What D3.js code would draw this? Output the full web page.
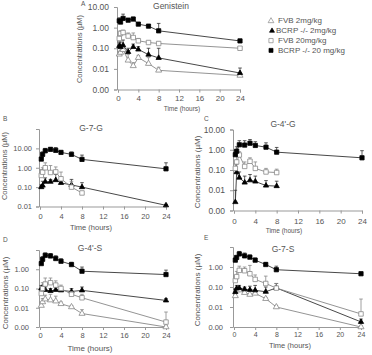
<!DOCTYPE html>
<html><head><meta charset="utf-8">
<script src="https://cdn.jsdelivr.net/npm/d3@7"></script>
<style>body{margin:0;background:#fff}svg{display:block}text{font-family:"Liberation Sans",Arial,sans-serif;fill:#555}</style>
</head><body><svg id="c" width="372" height="355"></svg>
<script>
// ---- data ----
const times = [0.25, 0.5, 1, 2, 3, 4, 6, 8, 24];
const times8 = [0.25, 0.5, 1, 2, 3, 4, 6, 8];
const xTicks = [0, 4, 8, 12, 16, 20, 24];
const seriesNames = ["FVB 2mg/kg", "BCRP -/- 2mg/kg", "FVB 20mg/kg", "BCRP -/- 20 mg/kg"];

// Genistein
const genFvb2 = [0.051, 0.062, 0.085, 0.026, 0.014, 0.035, 0.018, 0.0085, 0.0048];
const genFvb2Err = [0.07, 0.08, 0.12, 0.05, 0.02, 0.045, 0.035, 0.012, 0.006];
const genBcrp2 = [0.13, 0.115, 0.14, 0.066, 0.115, 0.087, 0.049, 0.034, 0.0063];
const genBcrp2Err = [0.2, 0.2, 0.25, 0.1, 0.16, 0.12, 0.1, 0.1, 0.011];
const genFvb20 = [0.3, 0.52, 0.58, 0.39, 0.33, 0.23, 0.19, 0.17, 0.1];
const genFvb20Err = [0.4, 0.7, 0.75, 0.55, 0.55, 0.3, 0.23, 0.2, 0.11];
const genBcrp20 = [2.15, 1.86, 2.8, 2.3, 2.6, 1.48, 1.18, 0.7, 0.227];
const genBcrp20Err = [3.0, 2.5, 4.5, 2.8, 3.2, 1.7, 1.4, 1.6, 0.27];

// G-7-G
const g7gBcrp2 = [0.1, 0.12, 0.19, 0.19, 0.23, 0.165, 0.13, 0.1, 0.0115];
const g7gBcrp2Err = [0.13, 0.2, 0.3, 0.25, 0.45, 0.2, 0.25, 0.17, 0.013];
const g7gFvb20 = [0.4, 0.59, 1.0, 0.57, 0.61, 0.27, 0.1, 0.05];
const g7gFvb20Err = [0.8, 1.0, 1.8, 1.3, 1.1, 0.6, 0.2, 0.06];
const g7gBcrp20 = [2.8, 4.9, 7.5, 8.9, 7.9, 6.2, 4.9, 2.7, 0.88];
const g7gBcrp20Err = [3.5, 6.5, 10, 11, 11, 7.5, 6.5, 4.5, 1.8];

// G-4'-G
const g4gBcrp2 = [0.0026, 0.078, 0.042, 0.024, 0.031, 0.027, 0.017, 0.016];
const g4gBcrp2Err = [0.01, 0.2, 0.08, 0.05, 0.06, 0.05, 0.03, 0.028];
const g4gFvb20 = [0.12, 0.25, 0.55, 0.15, 0.27, 0.12, 0.08, 0.075];
const g4gFvb20Err = [0.2, 0.5, 0.8, 0.25, 0.4, 0.25, 0.12, 0.11];
const g4gBcrp20 = [0.57, 0.85, 1.76, 1.7, 2.1, 1.63, 1.34, 0.76, 0.4];
const g4gBcrp20Err = [0.9, 1.4, 2.8, 2.8, 3.2, 2.5, 2.2, 1.3, 0.9];

// G-4'-S
const g4sFvb2 = [0.013, 0.02, 0.028, 0.025, 0.022, 0.016, 0.011, 0.005, 0.001];
const g4sFvb2Err = [0.02, 0.03, 0.045, 0.05, 0.04, 0.02, 0.013, 0.008, 0.0012];
const g4sBcrp2 = [0.1, 0.11, 0.085, 0.075, 0.085, 0.08, 0.07, 0.08, 0.024];
const g4sBcrp2Err = [0.14, 0.15, 0.12, 0.1, 0.12, 0.1, 0.1, 0.12, 0.03];
const g4sFvb20 = [0.055, 0.1, 0.17, 0.2, 0.15, 0.1, 0.05, 0.033, 0.0018];
const g4sFvb20Err = [0.12, 0.2, 0.35, 0.35, 0.25, 0.15, 0.07, 0.05, 0.006];
const g4sBcrp20 = [1.97, 3.3, 5.3, 4.9, 3.6, 2.6, 1.75, 0.79, 0.53];
const g4sBcrp20Err = [2.5, 4.5, 7, 6.5, 5, 3.5, 2.3, 1.3, 0.9];

// G-7-S
const g7sFvb2 = [0.036, 0.07, 0.07, 0.052, 0.042, 0.048, 0.026, 0.01, 0.001];
const g7sFvb2Err = [0.05, 0.09, 0.09, 0.07, 0.06, 0.06, 0.03, 0.012, 0.0012];
const g7sBcrp2 = [0.056, 0.085, 0.088, 0.077, 0.072, 0.068, 0.058, 0.09, 0.0018];
const g7sBcrp2Err = [0.08, 0.12, 0.12, 0.1, 0.11, 0.12, 0.1, 0.15, 0.0025];
const g7sFvb20 = [0.21, 0.33, 0.68, 0.65, 0.46, 0.24, 0.15, 0.088, 0.0045];
const g7sFvb20Err = [0.35, 0.6, 1.1, 1.0, 1.2, 0.4, 0.35, 0.15, 0.025];
const g7sBcrp20 = [2.2, 3.0, 4.5, 3.6, 3.1, 2.2, 1.33, 0.73, 0.46];
const g7sBcrp20Err = [2.8, 3.5, 6, 5, 4, 2.8, 1.7, 1.1, 0.55];

// ---- drawing ----
const svg = d3.select("#c");
const styles = {
  fvb2:   {sym: d3.symbolTriangle, fill: "#fff", stroke: "#888", line: "#888", size: 16},
  bcrp2:  {sym: d3.symbolTriangle, fill: "#000", stroke: "#000", line: "#333", size: 12},
  fvb20:  {sym: d3.symbolSquare,   fill: "#fff", stroke: "#888", line: "#888", size: 20},
  bcrp20: {sym: d3.symbolSquare,   fill: "#000", stroke: "#000", line: "#333", size: 18}
};

function panel(cfg) {
  const g = svg.append("g");
  const x = d3.scaleLinear().domain([0, 24]).range([cfg.x0, cfg.x1]);
  const y = d3.scaleLog().domain(cfg.domain).range([cfg.yBot, cfg.yTop]);
  const ya = g.append("g").attr("transform", `translate(${cfg.x0 - 1},0)`)
    .call(d3.axisLeft(y).tickValues(cfg.yTicks).tickFormat(d3.format(".2f")).tickSize(3).tickPadding(cfg.yPad));
  const xa = g.append("g").attr("transform", `translate(0,${cfg.yBot})`)
    .call(d3.axisBottom(x).tickValues(xTicks).tickSize(3).tickPadding(cfg.xPad));
  [ya, xa].forEach(a => {
    a.select(".domain").attr("stroke", "#999");
    a.selectAll(".tick line").attr("stroke", "#999");
    a.selectAll("text").style("fill", "#555").attr("font-family", "Liberation Sans, Arial, sans-serif");
  });
  ya.selectAll("text").attr("font-size", cfg.tickFont);
  xa.selectAll("text").attr("font-size", cfg.xTickFont);
  cfg.series.forEach(s => {
    const st = styles[s.key];
    const pts = s.t.map((t, i) => ({t, v: s.v[i], e: s.e[i]}));
    g.append("path").datum(pts).attr("fill", "none").attr("stroke", st.line).attr("stroke-width", 0.9)
      .attr("d", d3.line().x(d => x(d.t)).y(d => y(d.v)));
    const eb = g.append("g").attr("stroke", st.line).attr("stroke-width", 0.8);
    pts.forEach(d => {
      eb.append("line").attr("x1", x(d.t)).attr("x2", x(d.t)).attr("y1", y(d.v)).attr("y2", y(d.e));
      eb.append("line").attr("x1", x(d.t) - 1.8).attr("x2", x(d.t) + 1.8).attr("y1", y(d.e)).attr("y2", y(d.e));
    });
    g.append("g").selectAll("path").data(pts).join("path")
      .attr("transform", d => `translate(${x(d.t)},${y(d.v)})`)
      .attr("d", d3.symbol().type(st.sym).size(st.size))
      .attr("fill", st.fill).attr("stroke", st.stroke).attr("stroke-width", 0.8);
  });
  g.append("text").attr("x", cfg.titleX).attr("y", cfg.titleY).attr("text-anchor", "middle")
    .attr("dominant-baseline", "middle").attr("font-size", 8.5).text(cfg.title);
  g.append("text").attr("x", cfg.letterX).attr("y", cfg.letterY).attr("dominant-baseline", "middle")
    .attr("font-size", 6.5).text(cfg.letter);
  g.append("text").attr("transform", `translate(${cfg.yTitleX},${cfg.yTitleY}) rotate(-90)`)
    .attr("text-anchor", "middle").attr("dominant-baseline", "middle").attr("font-size", cfg.yTitleFont)
    .text("Concentrations (\u00b5M)");
  g.append("text").attr("x", cfg.xTitleX).attr("y", cfg.xTitleY).attr("text-anchor", "middle")
    .attr("dominant-baseline", "middle").attr("font-size", cfg.xTitleFont).text("Time (hours)");
}

const ticks4 = [10, 1, 0.1, 0.01, 0.001];

panel({x0: 118, x1: 240, yTop: 7, yBot: 89.5, domain: [0.001, 10], yTicks: ticks4, yPad: 5, xPad: 3, tickFont: 8.5, xTickFont: 8,
  title: "Genistein", titleX: 171, titleY: 7, letter: "A", letterX: 81, letterY: 4,
  yTitleX: 80, yTitleY: 49, yTitleFont: 7.5, xTitleX: 182, xTitleY: 109, xTitleFont: 6.5,
  series: [
    {key: "fvb2", t: times, v: genFvb2, e: genFvb2Err},
    {key: "bcrp2", t: times, v: genBcrp2, e: genBcrp2Err},
    {key: "fvb20", t: times, v: genFvb20, e: genFvb20Err},
    {key: "bcrp20", t: times, v: genBcrp20, e: genBcrp20Err}]});

panel({x0: 40, x1: 166, yTop: 129, yBot: 206.5, domain: [0.01, 100], yTicks: [10, 1, 0.1, 0.01], yPad: 4, xPad: 4, tickFont: 7.5, xTickFont: 7.5,
  title: "G-7-G", titleX: 91, titleY: 129, letter: "B", letterX: 3, letterY: 119,
  yTitleX: 5, yTitleY: 166, yTitleFont: 7.5, xTitleX: 91, xTitleY: 228, xTitleFont: 7.5,
  series: [
    {key: "bcrp2", t: times, v: g7gBcrp2, e: g7gBcrp2Err},
    {key: "fvb20", t: times8, v: g7gFvb20, e: g7gFvb20Err},
    {key: "bcrp20", t: times, v: g7gBcrp20, e: g7gBcrp20Err}]});

panel({x0: 234, x1: 362, yTop: 129.5, yBot: 210.5, domain: [0.001, 10], yTicks: ticks4, yPad: 5, xPad: 5, tickFont: 8.5, xTickFont: 8,
  title: "G-4'-G", titleX: 283, titleY: 125, letter: "C", letterX: 204, letterY: 119,
  yTitleX: 198, yTitleY: 172, yTitleFont: 8, xTitleX: 284, xTitleY: 231.5, xTitleFont: 6.5,
  series: [
    {key: "bcrp2", t: times8, v: g4gBcrp2, e: g4gBcrp2Err},
    {key: "fvb20", t: times8, v: g4gFvb20, e: g4gFvb20Err},
    {key: "bcrp20", t: times, v: g4gBcrp20, e: g4gBcrp20Err}]});

panel({x0: 40, x1: 166, yTop: 250, yBot: 327, domain: [0.001, 10], yTicks: [1, 0.1, 0.01, 0.001], yPad: 7, xPad: 3, tickFont: 7.5, xTickFont: 7.5,
  title: "G-4'-S", titleX: 90, titleY: 249, letter: "D", letterX: 3, letterY: 240,
  yTitleX: 6, yTitleY: 293, yTitleFont: 8, xTitleX: 90, xTitleY: 349, xTitleFont: 8,
  series: [
    {key: "fvb2", t: times, v: g4sFvb2, e: g4sFvb2Err},
    {key: "bcrp2", t: times, v: g4sBcrp2, e: g4sBcrp2Err},
    {key: "fvb20", t: times, v: g4sFvb20, e: g4sFvb20Err},
    {key: "bcrp20", t: times, v: g4sBcrp20, e: g4sBcrp20Err}]});

panel({x0: 234, x1: 361, yTop: 247, yBot: 327, domain: [0.001, 10], yTicks: [1, 0.1, 0.01, 0.001], yPad: 7, xPad: 2, tickFont: 7.5, xTickFont: 7,
  title: "G-7-S", titleX: 283, titleY: 250, letter: "E", letterX: 204, letterY: 238,
  yTitleX: 198, yTitleY: 290, yTitleFont: 8, xTitleX: 290, xTitleY: 346, xTitleFont: 7.5,
  series: [
    {key: "fvb2", t: times, v: g7sFvb2, e: g7sFvb2Err},
    {key: "bcrp2", t: times, v: g7sBcrp2, e: g7sBcrp2Err},
    {key: "fvb20", t: times, v: g7sFvb20, e: g7sFvb20Err},
    {key: "bcrp20", t: times, v: g7sBcrp20, e: g7sBcrp20Err}]});

// legend
const legKeys = ["fvb2", "bcrp2", "fvb20", "bcrp20"];
const leg = svg.append("g");
legKeys.forEach((k, i) => {
  const st = styles[k];
  const yy = 21 + i * 9.8;
  leg.append("path").attr("transform", `translate(${k === "bcrp2" ? 272 : 271},${yy})`)
    .attr("d", d3.symbol().type(st.sym).size(st.size * 0.9))
    .attr("fill", st.fill).attr("stroke", st.stroke).attr("stroke-width", 0.7);
  leg.append("text").attr("x", k === "bcrp2" ? 276 : 278).attr("y", yy).attr("dominant-baseline", "middle")
    .attr("font-size", 8).text(seriesNames[i]);
});
</script></body></html>
